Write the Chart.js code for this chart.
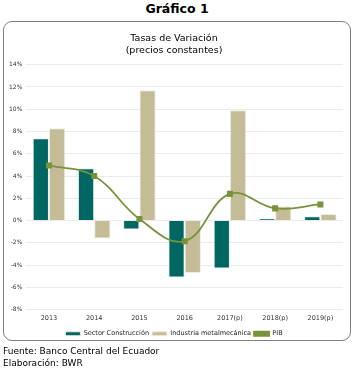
<!DOCTYPE html>
<html>
<head>
<meta charset="utf-8">
<script src="https://cdn.jsdelivr.net/npm/chart.js@4/dist/chart.umd.min.js"></script>
<style>
  body { margin: 0; width: 354px; height: 368px; background: #fff; font-family: "DejaVu Sans", sans-serif; position: relative; }
  #head { position: absolute; top: 1px; left: 0; width: 354px; text-align: center; font-weight: bold; font-size: 12.5px; color: #000; }
  #box { position: absolute; left: 3px; top: 21px; width: 346px; height: 318px; border: 1px solid #7f7f7f; border-radius: 9px; }
  #wrap { position: absolute; left: 4px; top: 22px; width: 346px; height: 325px; }
  #notes { position: absolute; left: 3px; top: 345px; font-size: 9px; line-height: 12px; color: #000; background: #fff; }
</style>
</head>
<body>
<div id="head">Gráfico 1</div>
<div id="box"></div>
<div id="wrap"><canvas id="myChart"></canvas></div>
<div id="notes">Fuente: Banco Central del Ecuador<br>Elaboración: BWR</div>
<script>
const years = ['2013', '2014', '2015', '2016', '2017(p)', '2018(p)', '2019(p)'];
const construccion = [7.4, 4.7, -0.8, -5.1, -4.3, 0.2, 0.4];
const metalmecanica = [8.3, -1.6, 11.7, -4.7, 9.9, 1.3, 0.6];
const pib = [4.95, 4.0, 0.15, -1.85, 2.4, 1.1, 1.45];

const ctx = document.getElementById('myChart').getContext('2d');
const myChart = new Chart(ctx, {
  data: {
    labels: years,
    datasets: [
      {
        type: 'bar',
        label: 'Sector Construcción',
        data: construccion,
        backgroundColor: '#006661',
        borderColor: '#e8efe8',
        borderWidth: 1,
        order: 2
      },
      {
        type: 'bar',
        label: 'Industria metalmecánica',
        data: metalmecanica,
        backgroundColor: '#c4bc96',
        borderColor: '#f0eee4',
        borderWidth: 1,
        order: 3
      },
      {
        type: 'line',
        label: 'PIB',
        data: pib,
        borderColor: '#77933c',
        backgroundColor: '#77933c',
        borderWidth: 1.8,
        tension: 0.4,
        pointStyle: 'rect',
        pointRadius: 3,
        order: 1
      }
    ]
  },
  options: {
    responsive: true,
    maintainAspectRatio: false,
    animation: false,
    layout: { padding: { left: 1, right: 7, top: 0, bottom: 0 } },
    datasets: { bar: { categoryPercentage: 0.72, barPercentage: 1.0 } },
    plugins: {
      title: {
        display: true,
        text: ['Tasas de Variación', '(precios constantes)'],
        color: '#000',
        font: { family: 'DejaVu Sans', size: 9.5, weight: 'normal', lineHeight: 1.3 },
        padding: { top: 10, bottom: 8 }
      },
      legend: {
        position: 'bottom',
        labels: {
          color: '#222',
          font: { family: 'DejaVu Sans', size: 6.5 },
          boxWidth: 15,
          boxHeight: 4,
          padding: 3,
          sort: (a, b) => a.datasetIndex - b.datasetIndex
        }
      },
      tooltip: { enabled: false }
    },
    scales: {
      x: {
        grid: { display: false, drawTicks: false },
        border: { display: false },
        ticks: { color: '#333', font: { family: 'DejaVu Sans', size: 6.5 }, padding: 5 }
      },
      y: {
        min: -8,
        max: 14,
        grid: { color: '#ebebeb', drawTicks: false },
        border: { display: false },
        ticks: {
          stepSize: 2,
          color: '#333',
          font: { family: 'DejaVu Sans', size: 6 },
          padding: 4,
          callback: function (v) { return v + '%'; }
        }
      }
    }
  }
});
</script>
</body>
</html>
